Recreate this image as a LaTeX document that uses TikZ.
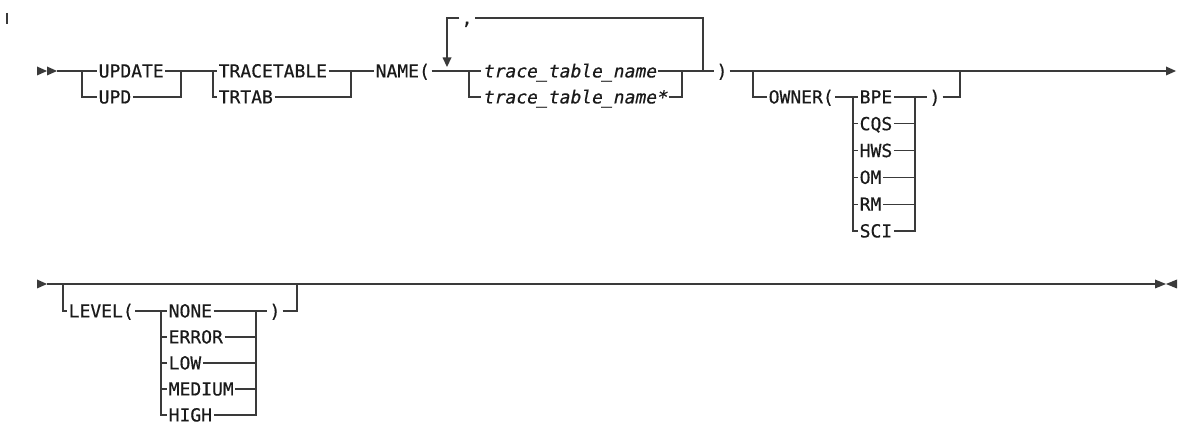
\documentclass[tikz,border=0pt]{standalone}
\usepackage{fontspec}
\newfontfamily\railfont[FakeBold=0.5]{DejaVu Sans Mono}
\newfontfamily\railitfont[FakeBold=0.5,FakeSlant=0.2]{DejaVu Sans Mono}
\definecolor{railc}{HTML}{3A3A3A}
\definecolor{txtc}{HTML}{1A1A1A}
\begin{document}
\begin{tikzpicture}[x=1pt,y=-1pt,
  rail/.style={draw=railc,line width=1.15pt},
  kw/.style={font=\fontsize{18}{20}\railfont, text=txtc, inner xsep=1.5pt, inner ysep=0pt, text height=12.9pt, text depth=0pt, anchor=west},
  var/.style={kw, font=\fontsize{18}{20}\railitfont},
  sym/.style={kw, anchor=center, inner xsep=2pt}
]
\useasboundingbox[fill=white] (0,0) rectangle (1187,427);

% change bar
\coordinate (barT) at (7,13); \coordinate (barB) at (7,24);
\draw[rail] (barT) -- (barB);

% ===== Row 1 =====
\fill[railc] (37,66.5) -- (47,71) -- (37,75.5) -- cycle;
\fill[railc] (47,66.5) -- (57,71) -- (47,75.5) -- cycle;
\coordinate (start1) at (57,71);

\coordinate (j1) at (82,71);
\node[kw] (update) at (97,71) {UPDATE};
\node[kw] (upd) at (97,97) {UPD};
\coordinate (j2) at (181,71);
\draw[rail] (start1) -- (j1) -- (update.west);
\draw[rail] (j1) -- (j1 |- upd) -- (upd.west);
\draw[rail] (update.east) -- (j2);
\draw[rail] (upd.east) -- (j2 |- upd) -- (j2);

\coordinate (j3) at (213,71);
\node[kw] (tracetable) at (217,71) {TRACETABLE};
\node[kw] (trtab) at (217,97) {TRTAB};
\coordinate (j4) at (351,71);
\draw[rail] (j2) -- (j3) -- (tracetable.west);
\draw[rail] (j3) -- (j3 |- trtab) -- (trtab.west);
\draw[rail] (tracetable.east) -- (j4);
\draw[rail] (trtab.east) -- (j4 |- trtab) -- (j4);

\node[kw] (name) at (374,71) {NAME(};
\draw[rail] (j4) -- (name.west);

\coordinate (j5) at (469,71);
\node[var] (ttn) at (481,71) {trace\_table\_name};
\node[var] (ttns) at (481,97) {trace\_table\_name*};
\coordinate (j6) at (682,71);
\draw[rail] (name.east) -- (j5) -- (ttn.west);
\draw[rail] (j5) -- (j5 |- ttns) -- (ttns.west);
\draw[rail] (ttn.east) -- (j6);
\draw[rail] (ttns.east) -- (j6 |- ttns) -- (j6);

% repeat loop
\coordinate (loopR) at (703,71);
\coordinate (loopRt) at (703,18);
\coordinate (loopLt) at (447,18);
\coordinate (loopArr) at (447,58);
\node[sym, inner xsep=2pt] (comma) at (467,18) {,};
\draw[rail] (loopR) -- (loopRt) -- (comma.east);
\draw[rail] (comma.west) -- (loopLt) -- (loopArr);
\fill[railc] (442.5,57.5) -- (451.5,57.5) -- (447,67) -- cycle;

\node[sym] (rp1) at (722,71) {)};
\draw[rail] (j6) -- (loopR) -- (rp1.west);

\coordinate (j7) at (753,71);
\coordinate (end1) at (1166,71);
\draw[rail] (rp1.east) -- (j7) -- (end1);
\fill[railc] (1166,66.5) -- (1176,71) -- (1166,75.5) -- cycle;

% OWNER optional
\node[kw] (owner) at (767,97) {OWNER(};
\draw[rail] (j7) -- (j7 |- owner) -- (owner.west);
\coordinate (j8) at (853,97);
\coordinate (j9) at (915,97);
\node[kw] (bpe) at (858,97) {BPE};
\node[kw] (cqs) at (858,123.8) {CQS};
\node[kw] (hws) at (858,150.6) {HWS};
\node[kw] (om)  at (858,177.4) {OM};
\node[kw] (rm)  at (858,204.2) {RM};
\node[kw] (sci) at (858,231) {SCI};
\draw[rail] (owner.east) -- (j8) -- (bpe.west);
\draw[rail] (j8) -- (j8 |- sci) -- (sci.west);
\foreach \n in {cqs,hws,om,rm} {
  \draw[rail] (j8 |- \n) -- (\n.west);
  \draw[rail] (\n.east) -- (j9 |- \n);
}
\node[sym] (rp2) at (935,97) {)};
\draw[rail] (bpe.east) -- (j9) -- (rp2.west);
\draw[rail] (j9) -- (j9 |- sci) -- (sci.east);
\coordinate (j10) at (960,71);
\draw[rail] (rp2.east) -- (j10 |- rp2) -- (j10);

% ===== Row 2 =====
\fill[railc] (37,279.5) -- (47,284) -- (37,288.5) -- cycle;
\coordinate (start2) at (47,284);
\coordinate (end2) at (1155,284);
\draw[rail] (start2) -- (end2);
\fill[railc] (1155,279.5) -- (1166,284) -- (1155,288.5) -- cycle;
\fill[railc] (1177,279.5) -- (1166,284) -- (1177,288.5) -- cycle;

\coordinate (j11) at (63,284);
\node[kw] (level) at (67,311) {LEVEL(};
\draw[rail] (j11) -- (j11 |- level) -- (level.west);
\coordinate (j12) at (161,311);
\coordinate (j13) at (256,311);
\node[kw] (none)   at (167,311) {NONE};
\node[kw] (error)  at (167,337) {ERROR};
\node[kw] (low)    at (167,363) {LOW};
\node[kw] (medium) at (167,389) {MEDIUM};
\node[kw] (high)   at (167,415) {HIGH};
\draw[rail] (level.east) -- (j12) -- (none.west);
\draw[rail] (j12) -- (j12 |- high) -- (high.west);
\foreach \n in {error,low,medium} {
  \draw[rail] (j12 |- \n) -- (\n.west);
  \draw[rail] (\n.east) -- (j13 |- \n);
}
\node[sym] (rp3) at (275,311) {)};
\draw[rail] (none.east) -- (j13) -- (rp3.west);
\draw[rail] (j13) -- (j13 |- high) -- (high.east);
\coordinate (j14) at (297,284);
\draw[rail] (rp3.east) -- (j14 |- rp3) -- (j14);
\coordinate (thickA) at (303,284); \coordinate (thickB) at (325,284);
\draw[railc, line width=2.2pt] (thickA) -- (thickB);
\end{tikzpicture}
\end{document}
